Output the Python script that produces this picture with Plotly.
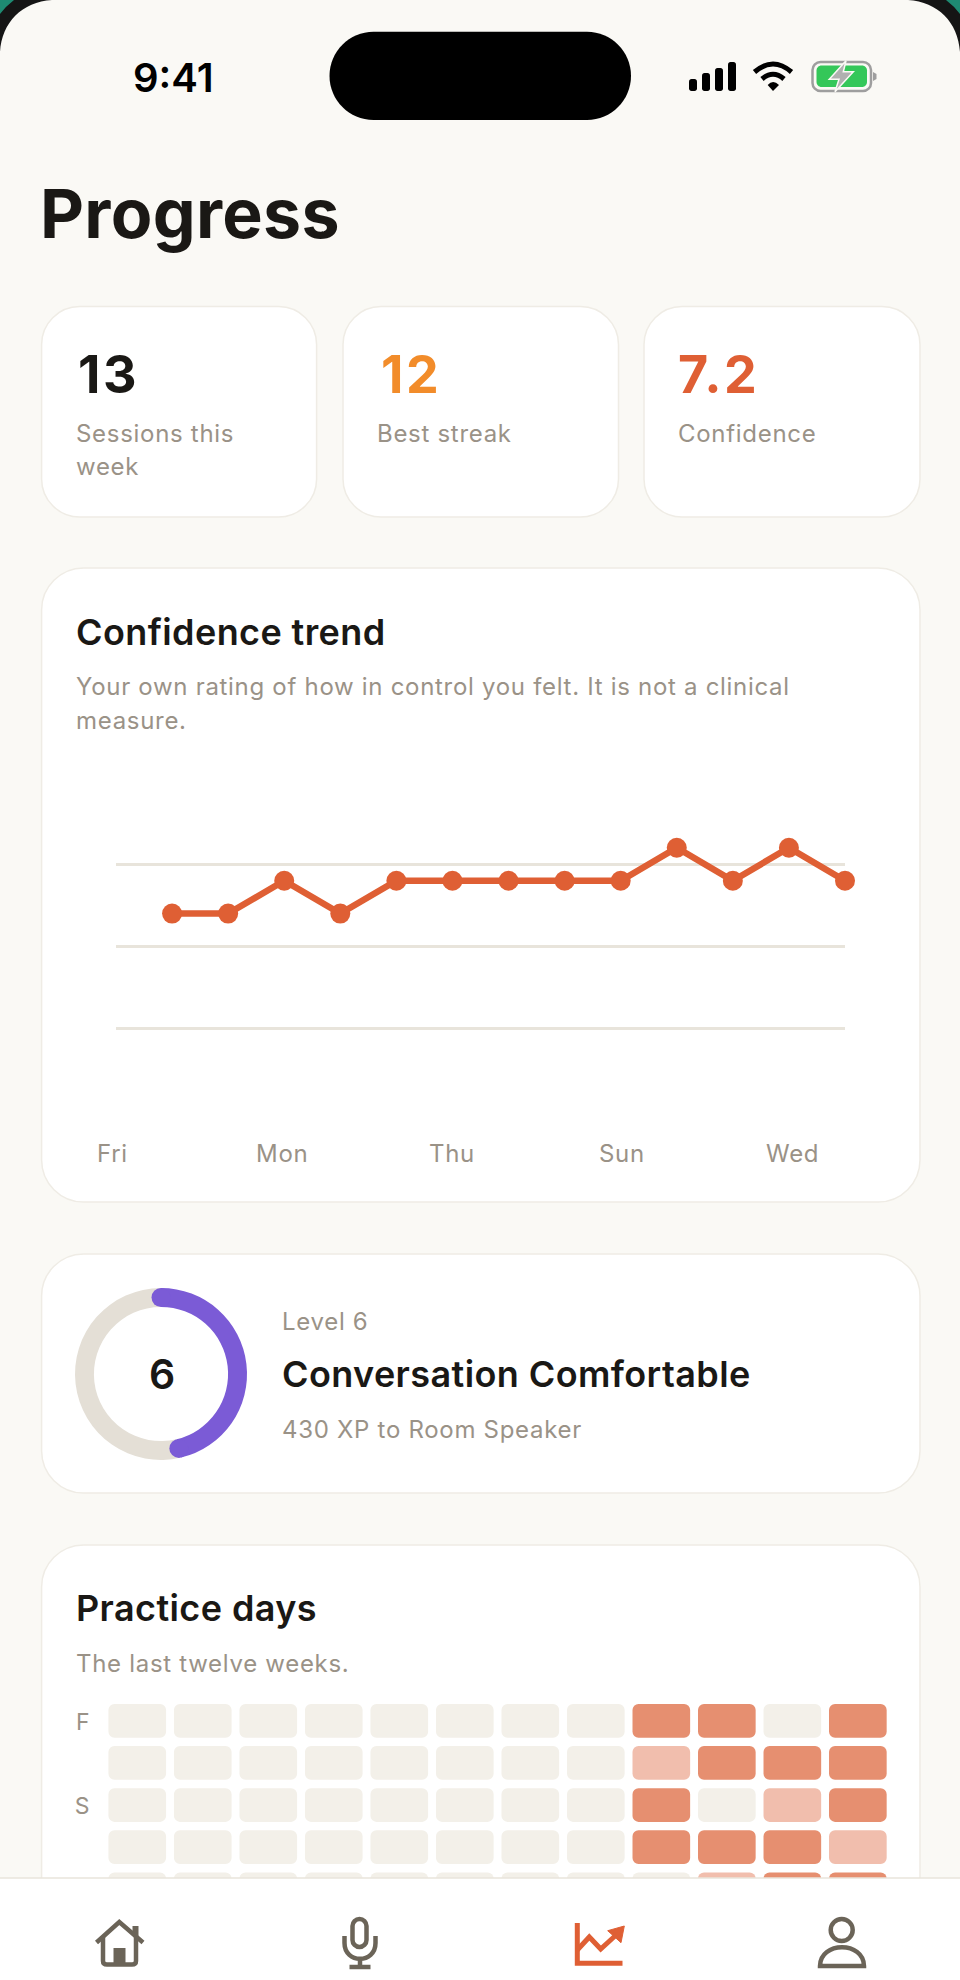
import math

import plotly.graph_objects as go

# confidence trend
trend_days = list(range(14))
trend_values = [None, 6, 6, 7, 6, 7, 7, 7, 7, 7, 8, 7, 8, 7]
trend_grid = [2.5, 5, 7.5]
trend_labels = ["Fri", "Mon", "Thu", "Sun", "Wed"]

# stat cards
stat_values = ["13", "12", "7.2"]
stat_labels = [["Sessions this", "week"], ["Best streak"], ["Confidence"]]

# level ring
xp_done = 370
xp_left = 430

# practice days, 0 = none, 1 = light, 2 = full. rows below 5 sit under the tab bar
practice_levels = [
    [0, 0, 0, 0, 0, 0, 0, 0, 2, 2, 0, 2],
    [0, 0, 0, 0, 0, 0, 0, 0, 1, 2, 2, 2],
    [0, 0, 0, 0, 0, 0, 0, 0, 2, 0, 1, 2],
    [0, 0, 0, 0, 0, 0, 0, 0, 2, 2, 2, 1],
    [0, 0, 0, 0, 0, 0, 0, 0, 0, 1, 2, 2],
]
practice_rows = ["F", "S"]

WIDTH = 960
HEIGHT = 1980
FONT = "Inter"
BG = "#FAF9F5"
INK = "#1A1815"
MUTED = "#9A9287"
ACCENT = "#DF5F34"
ORANGE = "#F28C2A"
PURPLE = "#7B5BD6"
TRACK = "#E4DFD6"
RULE = "#E8E4DB"
BORDER = "#EFECE5"
ICON = "#6B6458"
LEVEL_COLORS = ["#F3F0E9", "#F1BEAD", "#E68F70"]

shapes = []
annotations = []


def rrect(x0, y0, x1, y1, r):
    k = r * 0.45
    return (
        f"M{x0 + r},{y0} L{x1 - r},{y0} C{x1 - k},{y0} {x1},{y0 + k} {x1},{y0 + r} "
        f"L{x1},{y1 - r} C{x1},{y1 - k} {x1 - k},{y1} {x1 - r},{y1} "
        f"L{x0 + r},{y1} C{x0 + k},{y1} {x0},{y1 - k} {x0},{y1 - r} "
        f"L{x0},{y0 + r} C{x0},{y0 + k} {x0 + k},{y0} {x0 + r},{y0} Z"
    )


def add_path(path, fill=None, line=None, width=0, layer="above"):
    shapes.append(
        dict(
            type="path",
            path=path,
            xref="x",
            yref="y",
            layer=layer,
            fillcolor=fill if fill else "rgba(0,0,0,0)",
            line=dict(color=line if line else "rgba(0,0,0,0)", width=width),
        )
    )


def add_circle(cx, cy, r, fill=None, line=None, width=0):
    shapes.append(
        dict(
            type="circle",
            xref="x",
            yref="y",
            x0=cx - r,
            x1=cx + r,
            y0=cy - r,
            y1=cy + r,
            layer="above",
            fillcolor=fill if fill else "rgba(0,0,0,0)",
            line=dict(color=line if line else "rgba(0,0,0,0)", width=width),
        )
    )


def add_text(x, y, text, size, color=INK, weight=400, anchor="left"):
    annotations.append(
        dict(
            x=x - 2.5 if anchor == "left" else x,  # annotation box has its own padding
            y=y,
            xref="x",
            yref="y",
            text=text,
            showarrow=False,
            xanchor=anchor,
            yanchor="middle",
            align="left",
            font=dict(family=FONT, size=size, color=color, weight=weight),
        )
    )


# cards
for x0, x1 in [(41.6, 316.6), (343, 618.5), (644, 920)]:
    add_path(rrect(x0, 306.5, x1, 517, 38), "white", BORDER, 1.5, "below")
add_path(rrect(41.6, 568, 920, 1202, 42), "white", BORDER, 1.5, "below")
add_path(rrect(41.6, 1254, 920, 1493, 42), "white", BORDER, 1.5, "below")
add_path(rrect(41.6, 1545, 920, 2040, 42), "white", BORDER, 1.5, "below")

# phone corners
add_path("M0,0 L52,0 C22,2 2,22 0,52 Z", "#151515", layer="below")
add_path("M908,0 L960,0 L960,52 C958,22 938,2 908,0 Z", "#151515", layer="below")
add_path("M0,0 L14,0 Q6,6 0,14 Z", "#1E8A72", layer="below")
add_path("M946,0 L960,0 L960,14 Q954,6 946,0 Z", "#1E8A72", layer="below")

# status bar
add_path(rrect(329.5, 31.7, 631, 120, 44), "black")
for x0, top in [(689, 79), (702, 73), (715, 68), (728, 62)]:
    add_path(rrect(x0, top, x0 + 8, 91, 2.5), "black")
add_path("M754.5,72 Q773,56 791.5,72", None, "black", 5)
add_path("M762,79 Q773,69.5 784,79", None, "black", 5)
add_path("M767.7,85 Q773,79 779,85 L773,91 Z", "black")
add_path(rrect(812.5, 62, 871, 91, 8), None, "#9E9E9E", 2.5)
add_path(rrect(816.5, 65.5, 867, 87, 5), "#34C759")
add_path("M873,72 L876.5,74 L876.5,79 L873,81 Z", "#9E9E9E")
add_path(
    "M846,60.7 L829.3,79.3 L839,79.3 L835,91.7 L853.3,71.7 L843.3,71.7 Z",
    "#B0B0B0",
    BG,
    1.5,
)

# ring end caps follow the xp share
ring_cx, ring_cy = 161, 1374
ring_mid = 76.5
ring_angle = 2 * math.pi * xp_done / (xp_done + xp_left)
add_circle(ring_cx, ring_cy - ring_mid, 9.5, PURPLE)
add_circle(
    ring_cx + ring_mid * math.sin(ring_angle),
    ring_cy - ring_mid * math.cos(ring_angle),
    9.5,
    PURPLE,
)

# tab bar
shapes.append(
    dict(
        type="rect",
        xref="x",
        yref="y",
        x0=-5,
        x1=965,
        y0=1878,
        y1=1985,
        layer="above",
        fillcolor="white",
        line=dict(width=0),
    )
)
shapes.append(
    dict(
        type="line",
        xref="x",
        yref="y",
        x0=0,
        x1=960,
        y0=1878,
        y1=1878,
        layer="above",
        line=dict(color=RULE, width=1.5),
    )
)

# home
add_path("M96.5,1942.5 L119.3,1922 L143,1942.5", None, ICON, 4.5)
add_path("M135.5,1926 L135.5,1936", None, ICON, 6)
add_path("M103,1936 L103,1961 Q103,1964.5 107,1964.5 L132,1964.5 Q136,1964.5 136,1961 L136,1936", None, ICON, 4.5)
add_path("M113.5,1948 L125.5,1948 L125.5,1965 L113.5,1965 Z", ICON)

# mic
add_path(rrect(352.5, 1919, 366.5, 1947, 7), None, ICON, 4.5)
add_path("M344.5,1936 L344.5,1943 C344.5,1964 375.5,1964 375.5,1943 L375.5,1936", None, ICON, 4.5)
add_path("M360,1958 L360,1967", None, ICON, 4.5)
add_path("M349.5,1967 L370.5,1967", None, ICON, 4.5)

# chart tab, active
add_path("M577.3,1923 L577.3,1963.3 L622.5,1963.3", None, ACCENT, 5)
add_path("M577.3,1950 L589.3,1937 L600.7,1949 L615,1936", None, ACCENT, 5)
add_path("M607.7,1930.7 L624.3,1926 L621,1942.7 Z", ACCENT, ACCENT, 1)

# profile
add_circle(841.7, 1930, 11, None, ICON, 4.5)
add_path("M820,1966 C820,1941 864,1941 864,1966 Z", None, ICON, 4.5)

# text
add_text(133, 77, "9:41", 40, "black", 600)
add_text(40.5, 213, "Progress", 68, INK, 700)

for x_value, x_label, value, color, label in zip(
    [78.5, 381.5, 678.5],
    [76, 377, 678],
    stat_values,
    [INK, ORANGE, ACCENT],
    stat_labels,
):
    add_text(x_value, 374, value, 52, color, 700)
    for i, line in enumerate(label):
        add_text(x_label, 433 + 33.5 * i, line, 24, MUTED)

add_text(76, 632, "Confidence trend", 36, INK, 600)
add_text(76, 686, "Your own rating of how in control you felt. It is not a clinical", 24, MUTED)
add_text(76, 720.5, "measure.", 24, MUTED)

# day labels are spread evenly under the plot, not locked to their day.
# page coords, an annotation on the trend axis would hide "Fri" just off its range
for i, day in enumerate(trend_labels):
    add_text(111 + 170 * i, 1153.5, day, 24, MUTED, anchor="center")

add_text(162, 1374, "6", 41, INK, 600, "center")
add_text(282, 1321, "Level 6", 24, MUTED)
add_text(282, 1373.5, "Conversation Comfortable", 36, INK, 600)
add_text(282, 1429, "430 XP to Room Speaker", 24, MUTED)

add_text(76, 1608, "Practice days", 36, INK, 600)
add_text(76, 1663, "The last twelve weeks.", 24, MUTED)

fig = go.Figure()

# page axis, one unit is one pixel
fig.add_trace(
    go.Scatter(x=[0], y=[0], mode="none", xaxis="x", yaxis="y", hoverinfo="skip", showlegend=False)
)

fig.add_trace(
    go.Scatter(
        x=trend_days,
        y=trend_values,
        mode="lines+markers",
        line=dict(color=ACCENT, width=6.5),
        marker=dict(color=ACCENT, size=20),
        xaxis="x2",
        yaxis="y2",
        cliponaxis=False,
        showlegend=False,
    )
)

# one bar per cell so the corners stay rounded
cell_x, cell_base, cell_color = [], [], []
for row, levels in enumerate(practice_levels):
    for col, level in enumerate(levels):
        cell_x.append(col)
        cell_base.append(row)
        cell_color.append(LEVEL_COLORS[level])

fig.add_trace(
    go.Bar(
        x=cell_x,
        y=[0.8] * len(cell_x),
        base=cell_base,
        width=0.88,
        marker=dict(color=cell_color, cornerradius=6, line=dict(width=0)),
        xaxis="x3",
        yaxis="y3",
        showlegend=False,
    )
)

fig.add_trace(
    go.Pie(
        values=[xp_done, xp_left],
        sort=False,
        direction="clockwise",
        rotation=0,
        hole=0.78,
        textinfo="none",
        marker=dict(colors=[PURPLE, TRACK], line=dict(width=0)),
        domain=dict(x=[75 / WIDTH, 247 / WIDTH], y=[1 - 1460 / HEIGHT, 1 - 1288 / HEIGHT]),
        showlegend=False,
    )
)

fig.update_layout(
    width=WIDTH,
    height=HEIGHT,
    margin=dict(l=0, r=0, t=0, b=0),
    paper_bgcolor=BG,
    plot_bgcolor="rgba(0,0,0,0)",
    hovermode=False,
    barmode="overlay",
    shapes=shapes,
    annotations=annotations,
    xaxis=dict(domain=[0, 1], range=[0, WIDTH], visible=False, fixedrange=True),
    yaxis=dict(domain=[0, 1], range=[HEIGHT, 0], visible=False, fixedrange=True),
    xaxis2=dict(
        domain=[116 / WIDTH, 845 / WIDTH],
        range=[0, 13],
        anchor="y2",
        showgrid=False,
        zeroline=False,
        showline=False,
        showticklabels=False,
        ticks="",
    ),
    yaxis2=dict(
        domain=[1 - 1111 / HEIGHT, 1 - 782 / HEIGHT],
        range=[0, 10],
        anchor="x2",
        tickmode="array",
        tickvals=trend_grid,
        showticklabels=False,
        ticks="",
        gridcolor=RULE,
        gridwidth=2.5,
        zeroline=False,
        showline=False,
    ),
    xaxis3=dict(
        domain=[104.5 / WIDTH, 890.6 / WIDTH],
        range=[-0.5, 11.5],
        anchor="y3",
        visible=False,
    ),
    yaxis3=dict(
        domain=[1 - 1878 / HEIGHT, 1 - 1704 / HEIGHT],
        range=[174 / 42.1, 0],
        anchor="x3",
        showgrid=False,
        zeroline=False,
        showline=False,
        ticks="",
        tickmode="array",
        tickvals=[0.42, 2.42],
        ticktext=practice_rows,
        tickfont=dict(family=FONT, size=23, color=MUTED),
        ticklabelstandoff=14,
    ),
)

# plotly has no letter spacing setting, so set it on the drawn text
spacing_js = """
document.body.style.margin = '0';
document.documentElement.style.overflow = 'hidden';
var spacing = {24: '0.7px', 36: '0.4px', 52: '2.5px', 68: '0.3px'};
document.querySelectorAll('.annotation-text').forEach(function (t) {
  var s = spacing[parseFloat(t.style.fontSize)];
  if (s) { t.style.letterSpacing = s; }
});
"""

fig.write_html(
    "out.html",
    config={"displayModeBar": False},
    post_script=spacing_js,
)
